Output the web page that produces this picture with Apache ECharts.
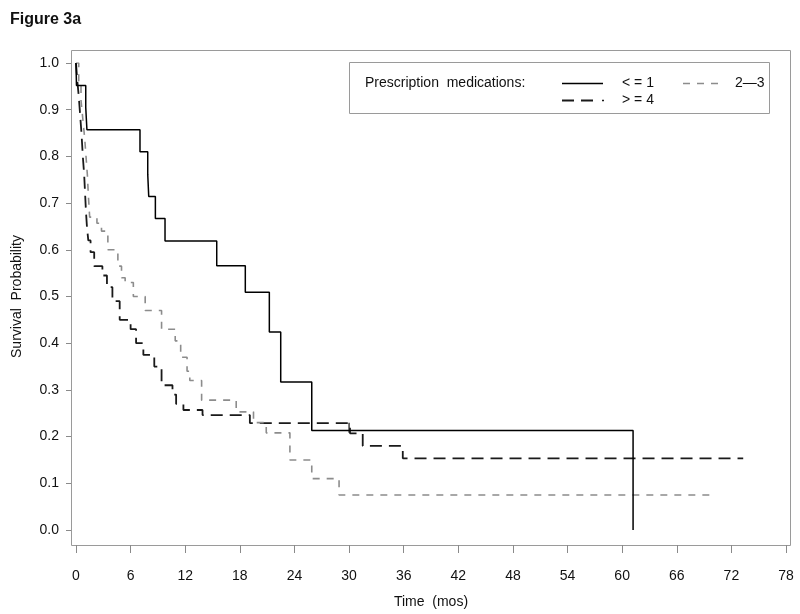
<!DOCTYPE html>
<html>
<head>
<meta charset="utf-8">
<script src="https://cdn.jsdelivr.net/npm/echarts@6/dist/echarts.min.js"></script>
<style>html,body{margin:0;padding:0;background:#fff;}#c{width:800px;height:614px;}</style>
</head>
<body>
<div id="c"></div>
<script>
// ---- data (months, survival probability) ----
var timesLe1 = [0, 0.05, 1.07, 1.2, 7.03, 7.88, 7.99, 8.72, 9.78, 15.46, 18.6, 21.24, 22.49, 25.9, 61.2];
var survLe1  = [1.0, 0.952, 0.905, 0.857, 0.810, 0.762, 0.714, 0.667, 0.619, 0.566, 0.509, 0.424, 0.317, 0.213, 0.0];

var timesGe4 = [0, 0.15, 0.3, 0.45, 0.6, 0.75, 0.9, 1.0, 1.1, 1.2, 1.35, 1.6, 2.0, 2.9, 3.4, 4.0, 4.8, 6.0, 6.6, 7.4, 8.6, 9.4, 10.6, 11.0, 11.8, 13.9, 19.1, 30.1, 31.5, 35.9, 73.3];
var survGe4  = [1.0, 0.96, 0.93, 0.89, 0.85, 0.80, 0.76, 0.72, 0.68, 0.65, 0.62, 0.595, 0.565, 0.545, 0.52, 0.49, 0.45, 0.43, 0.40, 0.375, 0.35, 0.31, 0.29, 0.27, 0.257, 0.246, 0.229, 0.207, 0.18, 0.1535, 0.1535];

var times23 = [0, 0.3, 0.55, 0.75, 0.95, 1.1, 1.25, 1.35, 1.5, 2.3, 2.8, 3.5, 4.6, 5.0, 5.4, 6.3, 7.6, 9.4, 10.9, 11.5, 12.2, 12.5, 13.8, 17.6, 19.5, 20.9, 23.5, 25.9, 28.9, 70.0];
var surv23  = [1.0, 0.96, 0.92, 0.88, 0.84, 0.80, 0.76, 0.72, 0.67, 0.657, 0.64, 0.60, 0.565, 0.54, 0.53, 0.50, 0.47, 0.43, 0.405, 0.37, 0.34, 0.32, 0.278, 0.253, 0.23, 0.208, 0.15, 0.11, 0.075, 0.075];

var censorTimesGe4 = [30.0];
var censorSurvGe4  = [0.219];

var xTicks = [0, 6, 12, 18, 24, 30, 36, 42, 48, 54, 60, 66, 72, 78];
var groupLabels = ['< = 1', '2\u20143', '> = 4'];

function zip(a, b) { return a.map(function (v, i) { return [v, b[i]]; }); }

var FONT = 'Liberation Sans';
var chart = echarts.init(document.getElementById('c'), null, { renderer: 'canvas' });
chart.setOption({
  animation: false,
  backgroundColor: '#ffffff',
  textStyle: { fontFamily: FONT },
  grid: { left: 76, right: 14, top: 63, bottom: 84, containLabel: false, outerBoundsMode: 'none' },
  xAxis: {
    type: 'value', min: xTicks[0], max: xTicks[xTicks.length - 1], interval: 6,
    offset: 15,
    axisLine: { show: true, onZero: false, lineStyle: { color: 'rgba(0,0,0,0)' } },
    axisTick: { show: true, inside: false, length: 8, lineStyle: { color: '#8a8a8a' } },
    axisLabel: { color: '#111', fontSize: 14, margin: 24, fontFamily: FONT },
    splitLine: { show: false },
    name: 'Time  (mos)', nameLocation: 'middle', nameGap: 50,
    nameTextStyle: { color: '#111', fontSize: 14, fontFamily: FONT }
  },
  yAxis: {
    type: 'value', min: 0, max: 1, interval: 0.1,
    offset: 5,
    axisLine: { show: true, onZero: false, lineStyle: { color: 'rgba(0,0,0,0)' } },
    axisTick: { show: true, inside: false, length: 5, lineStyle: { color: '#8a8a8a' } },
    axisLabel: { color: '#111', fontSize: 14, margin: 12, fontFamily: FONT,
      formatter: function (v) { return v.toFixed(1); } },
    splitLine: { show: false },
    name: 'Survival  Probability', nameLocation: 'middle', nameGap: 47,
    nameTextStyle: { color: '#111', fontSize: 14, fontFamily: FONT }
  },
  series: [
    { name: groupLabels[2], type: 'line', step: 'end', symbol: 'none',
      data: zip(timesGe4, survGe4),
      lineStyle: { color: '#1a1a1a', width: 1.8, type: [12, 7] } },
    { name: groupLabels[1], type: 'line', step: 'end', symbol: 'none',
      data: zip(times23, surv23),
      lineStyle: { color: '#8c8c8c', width: 1.6, type: [7, 7] } },
    { name: groupLabels[0], type: 'line', step: 'end', symbol: 'none',
      data: zip(timesLe1, survLe1),
      lineStyle: { color: '#000000', width: 1.5, type: 'solid' } },
    { name: 'censor', type: 'scatter', symbol: 'rect', symbolSize: [1.5, 10],
      data: zip(censorTimesGe4, censorSurvGe4), itemStyle: { color: '#111' } }
  ],
  graphic: [
    { type: 'rect', shape: { x: 71.5, y: 50.5, width: 719, height: 495 }, z: 0,
      style: { fill: 'none', stroke: '#9a9a9a', lineWidth: 1 } },
    { type: 'text', left: 10, top: 12,
      style: { text: 'Figure 3a', font: 'bold 16px "Liberation Sans"', fill: '#111' } },
    { type: 'rect', shape: { x: 349.5, y: 62.5, width: 420, height: 51 },
      style: { fill: '#fff', stroke: '#9a9a9a', lineWidth: 1 }, z: 10 },
    { type: 'text', x: 365, y: 83, z: 11,
      style: { text: 'Prescription  medications:', font: '14px "Liberation Sans"', fill: '#111', textVerticalAlign: 'middle' } },
    { type: 'line', z: 11, shape: { x1: 562, y1: 83.5, x2: 603, y2: 83.5 },
      style: { stroke: '#000', lineWidth: 1.5 } },
    { type: 'text', x: 622, y: 83, z: 11,
      style: { text: groupLabels[0], font: '14px "Liberation Sans"', fill: '#111', textVerticalAlign: 'middle' } },
    { type: 'line', z: 11, shape: { x1: 683, y1: 83.5, x2: 720, y2: 83.5 },
      style: { stroke: '#8c8c8c', lineWidth: 1.5, lineDash: [7, 7] } },
    { type: 'text', x: 735, y: 83, z: 11,
      style: { text: groupLabels[1], font: '14px "Liberation Sans"', fill: '#111', textVerticalAlign: 'middle' } },
    { type: 'line', z: 11, shape: { x1: 562, y1: 100.5, x2: 597, y2: 100.5 },
      style: { stroke: '#1a1a1a', lineWidth: 1.8, lineDash: [12, 7] } },
    { type: 'line', z: 11, shape: { x1: 602, y1: 100.5, x2: 604, y2: 100.5 },
      style: { stroke: '#1a1a1a', lineWidth: 1.5 } },
    { type: 'text', x: 622, y: 100, z: 11,
      style: { text: groupLabels[2], font: '14px "Liberation Sans"', fill: '#111', textVerticalAlign: 'middle' } }
  ]
});
</script>
</body>
</html>
